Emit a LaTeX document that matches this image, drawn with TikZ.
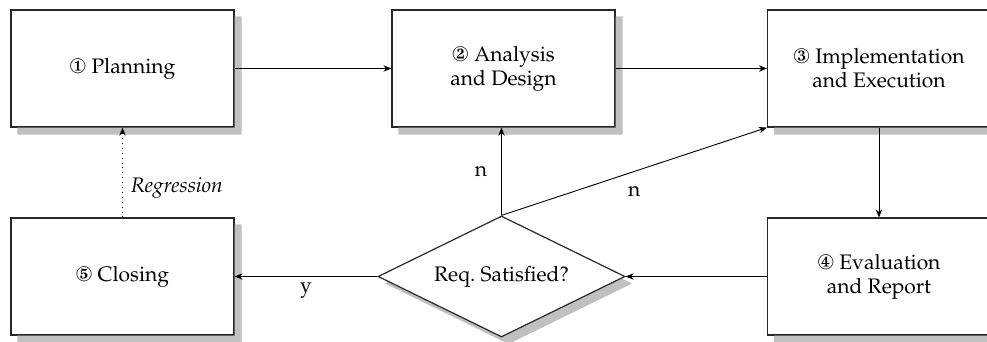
\documentclass[tikz,border=0pt]{standalone}
\usepackage[T1]{fontenc}
\usepackage{mathpazo}
\usepackage{pifont}
\usetikzlibrary{shapes.geometric,arrows.meta,calc}

\definecolor{shadowgray}{RGB}{192,192,192}
\definecolor{edgegray}{RGB}{40,40,40}

\tikzset{
  phase/.style={draw=edgegray, line width=0.6pt, fill=white,
    minimum width=111.5pt, minimum height=58.5pt, align=center,
    inner sep=0pt, font=\fontsize{10.5}{12}\selectfont},
  decision/.style={diamond, draw=edgegray, line width=0.6pt, fill=white,
    minimum width=123.5pt, minimum height=60.5pt, aspect=2.04, inner sep=0pt,
    font=\fontsize{10.5}{12}\selectfont},
  shadowfill/.style={fill=shadowgray, draw=none},
  flow/.style={line width=0.45pt, -{Stealth[length=4pt,width=3.2pt]}},
  tag/.style={font=\fontsize{10.5}{12}\selectfont, inner sep=1pt}
}

\begin{document}
\begin{tikzpicture}[x=0.5pt, y=-0.5pt]
  \useasboundingbox (0,0) -- (987,0) -- (987,342) -- (0,342) -- cycle;
  \fill[white] (0,0) -- (987,0) -- (987,342) -- (0,342) -- cycle;

  % diamond shadow sits fully behind the decision node
  \fill[shadowfill] (508.5,223) -- (632,283.5) -- (508.5,344) -- (385,283.5) -- cycle;

  % process phases
  \node[phase] (plan)  at (122.5,68.5) {\ding{172} Planning};
  \node[phase] (ana)   at (503.5,68.5) {\ding{173} Analysis\\and Design};
  \node[phase] (impl)  at (879,68.5)   {\ding{174} Implementation\\and Execution};
  \node[phase] (eval)  at (879,276.5)  {\ding{175} Evaluation\\and Report};
  \node[phase] (close) at (122.5,276.5){\ding{176} Closing};
  \node[decision] (req) at (501.5,276.5) {Req.\ Satisfied?};

  % box shadows: the L-shaped strip right of and below each box
  \foreach \n in {plan,ana,impl,eval,close}
    \fill[shadowfill] ($(\n.north east)+(0,7)$) -- ($(\n.north east)+(7,7)$)
      -- ($(\n.south east)+(7,7)$) -- ($(\n.south west)+(7,7)$)
      -- ($(\n.south west)+(7,0)$) -- (\n.south east) -- cycle;

  % main flow
  \draw[flow] (plan.east) -- (ana.west);
  \draw[flow] (ana.east) -- (impl.west);
  \draw[flow] (impl.south) -- (eval.north);
  \draw[flow] (eval.west) -- (req.east);
  \draw[flow] (req.west) -- node[tag, below=2pt] {y} (close.east);
  \draw[flow] (req.north) -- node[tag, left=6pt] {n} (req.north |- ana.south);
  \draw[flow] (req.north) -- node[tag, below=6pt, pos=0.5] {n} (impl.south west);
  \draw[flow, dotted] (close.north) -- node[tag, right=3pt, pos=0.33] {\itshape Regression} (plan.south);
\end{tikzpicture}
\end{document}
